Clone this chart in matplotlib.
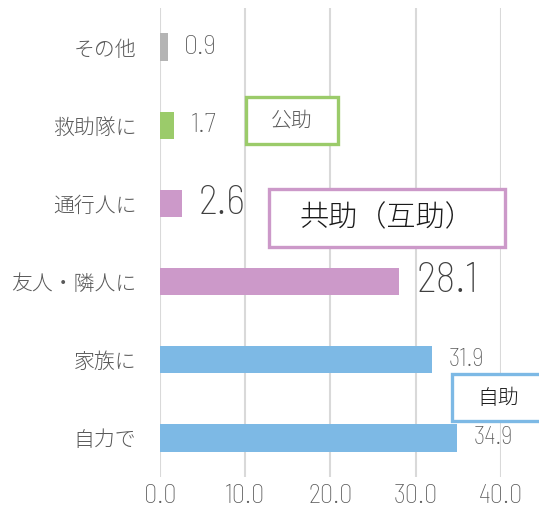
import matplotlib.pyplot as plt
from matplotlib.patches import Rectangle

# Data (top to bottom as shown)
categories = ['その他', '救助隊に', '通行人に', '友人・隣人に', '家族に', '自力で']
values = [0.9, 1.7, 2.6, 28.1, 31.9, 34.9]
bar_colors = ['#B4B4B4', '#9BCB6A', '#CC99C9', '#CC99C9', '#7DB9E5', '#7DB9E5']
label_sizes = [20, 20, 30, 31, 18, 18]
x_ticks = [0, 10, 20, 30, 40]
x_tick_labels = ['0.0', '10.0', '20.0', '30.0', '40.0']

cjk = ['Noto Sans CJK JP', 'DejaVu Sans']
narrow = dict(family=['Barlow Semi Condensed', 'Archivo Narrow', 'DejaVu Sans'], weight='light')
gray_text = '#595959'

W, H = 539, 511
fig = plt.figure(figsize=(W / 100, H / 100), dpi=100)
ax = fig.add_axes([160 / W, 1 - 477 / H, (500.7 - 160) / W, (477 - 8) / H])

ypos = list(range(len(categories)))
ax.barh(ypos, values, height=0.35, color=bar_colors, zorder=2)
ax.set_ylim(len(categories) - 0.5, -0.5)
ax.set_xlim(0, 40)

ax.set_yticks(ypos)
ax.set_yticklabels(categories, family=cjk, weight='light', fontsize=15, color=gray_text)
ax.set_xticks(x_ticks)
ax.set_xticklabels(x_tick_labels, fontsize=19, color=gray_text, **narrow)
ax.tick_params(axis='both', length=0)
ax.tick_params(axis='y', pad=17)
ax.tick_params(axis='x', pad=5)

ax.grid(axis='x', color='#D9D9D9', linewidth=1.5, zorder=0)
for s in ax.spines.values():
    s.set_visible(False)

# value labels
for y, v, fs in zip(ypos, values, label_sizes):
    col = '#404040' if fs > 25 else gray_text
    ax.annotate(f'{v:.1f}', xy=(v, y), xytext=(12, 0), textcoords='offset points',
                va='center', ha='left', fontsize=fs, color=col, zorder=3, **narrow)


def box(x0, y0, x1, y1, edge, text, fs, tcolor):
    r = Rectangle((x0 / W, 1 - y1 / H), (x1 - x0) / W, (y1 - y0) / H,
                  transform=fig.transFigure, facecolor='white', edgecolor=edge,
                  linewidth=2.4, zorder=5)
    fig.add_artist(r)
    fig.text((x0 + x1) / 2 / W, 1 - (y0 + y1) / 2 / H, text, ha='center', va='center',
             fontsize=fs, family=cjk, weight='light', color=tcolor, zorder=6)


box(246, 97, 338, 144, '#9BCB6A', '公助', 15, gray_text)
box(269, 189, 505, 247, '#CC99C9', '共助（互助）', 21, '#1a1a1a')
box(452, 374, 545, 421, '#7DB9E5', '自助', 15, '#1a1a1a')

fig.savefig('out.png', dpi=100)
